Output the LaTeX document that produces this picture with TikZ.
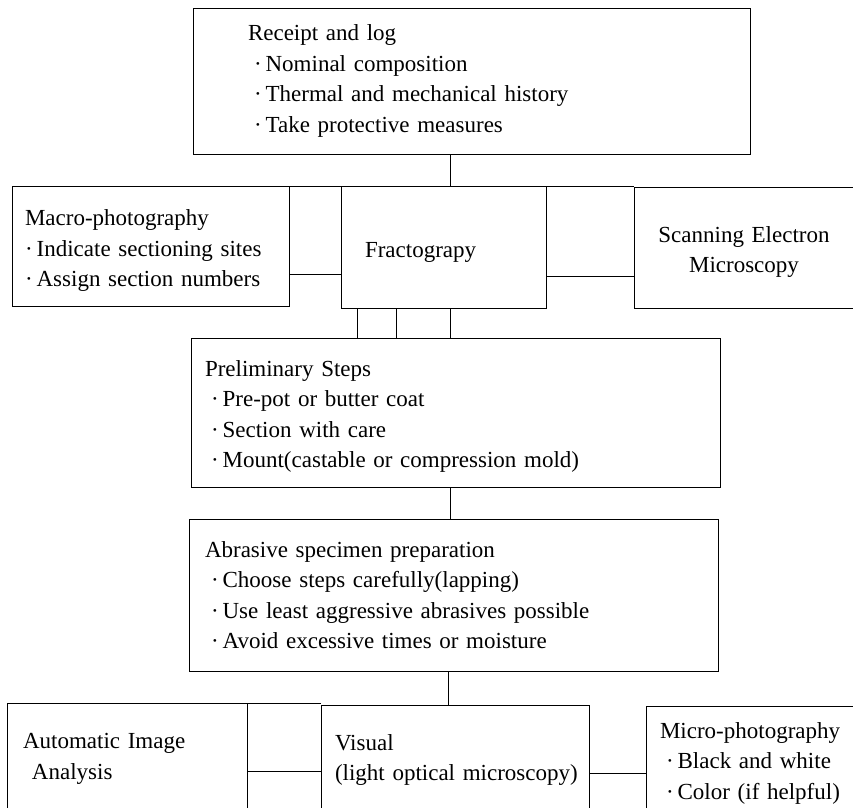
\documentclass[tikz,border=0pt]{standalone}
\usepackage{fontspec}
\setmainfont{Liberation Serif}
\newcommand{\dotitem}{\hspace*{6pt}\textperiodcentered\hspace{4pt}}
\tikzset{
	stagebox/.style={draw, line width=1pt, rectangle, align=left, inner ysep=0pt, outer sep=0pt, font=\fontsize{23}{30.5}\selectfont},
	link/.style={line width=1pt}
}
\begin{document}
\begin{tikzpicture}[x=1pt, y=-1pt]
		\useasboundingbox (0,0) rectangle (853,807);
		\clip (0,0) rectangle (853,807);
		
		\node[stagebox, text width=447pt, inner xsep=55pt, minimum height=146pt] (receipt) at (471.5,81) {Receipt and log\\ \dotitem Nominal composition\\ \dotitem Thermal and mechanical history\\ \dotitem Take protective measures};
		
		\node[stagebox, text width=251pt, inner xsep=13pt, minimum height=120pt, text height=25pt] (macro) at (150.5,246) {Macro-photography\\ \textperiodcentered\hspace{4pt}Indicate sectioning sites\\ \textperiodcentered\hspace{4pt}Assign section numbers};
		\node[stagebox, text width=157pt, inner xsep=24pt, minimum height=122pt, text height=25pt] (fracto) at (443.5,247) {Fractograpy};
		\node[stagebox, align=center, text width=200pt, inner xsep=10pt, minimum height=121pt, text height=25pt] (sem) at (744,247.5) {Scanning Electron\\ Microscopy};
		
		\node[stagebox, text width=501pt, inner xsep=14pt, minimum height=149pt, text height=24pt] (prelim) at (455.5,412.5) {Preliminary Steps\\ \dotitem Pre-pot or butter coat\\ \dotitem Section with care\\ \dotitem Mount(castable or compression mold)};
		
		\node[stagebox, text width=497pt, inner xsep=16pt, minimum height=152pt] (abrasive) at (453.5,595) {Abrasive specimen preparation\\ \dotitem Choose steps carefully(lapping)\\ \dotitem Use least aggressive abrasives possible\\ \dotitem Avoid excessive times or moisture};
		
		\node[stagebox, text width=208pt, inner xsep=16pt, minimum height=112pt] (auto) at (127,759) {Automatic Image\\ \hspace*{9pt}Analysis};
		\node[stagebox, text width=240pt, inner xsep=14pt, minimum height=110pt] (visual) at (455,760) {Visual\\ \mbox{(light optical microscopy)}};
		\node[stagebox, text width=196pt, inner xsep=14pt, minimum height=114pt] (micro) at (758,763) {Micro-photography\\ \dotitem Black and white\\ \dotitem Color (if helpful)};
		
		\draw[link] (450,0 |- receipt.south) -- (450,0 |- fracto.north);
		\draw[link] (macro.north east) -- (macro.north east -| fracto.west) (fracto.north east) -- (fracto.north east -| sem.west);
		\draw[link] (macro.east |- 0,274) -- (fracto.west |- 0,274);
		\draw[link] (fracto.east |- 0,276) -- (sem.west |- 0,276);
		\foreach \x in {357,396,450}
			\draw[link] (\x,0 |- fracto.south) -- (\x,0 |- prelim.north);
		\draw[link] (450,0 |- prelim.south) -- (450,0 |- abrasive.north);
		\draw[link] (448,0 |- abrasive.south) -- (448,0 |- visual.north);
		\draw[link] (auto.north east) -- (auto.north east -| visual.west);
		\draw[link] (auto.east |- 0,771) -- (visual.west |- 0,771);
		\draw[link] (visual.east |- 0,773) -- (micro.west |- 0,773);
	\end{tikzpicture}
\end{document}
